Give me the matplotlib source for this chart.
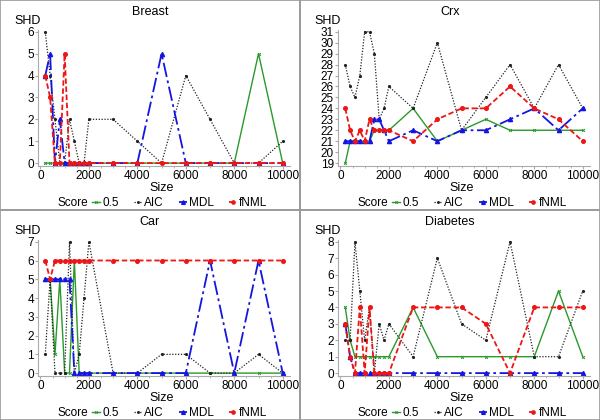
import matplotlib
matplotlib.use("Agg")
import matplotlib.pyplot as plt
from matplotlib.patches import Rectangle

sizes = [200, 400, 600, 800, 1000, 1200, 1400, 1600, 1800, 2000,
         3000, 4000, 5000, 6000, 7000, 8000, 9000, 10000]

# SHD per score, one list per data set
breast_05   = [0, 0, 0, 0, 0, 0, 0, 0, 0, 0, 0, 0, 0, 0, 0, 0, 5, 0]
breast_aic  = [6, 4, 2, 0, 0, 2, 1, 0, 0, 2, 2, 1, 0, 4, 2, 0, 0, 1]
breast_mdl  = [4, 5, 0, 2, 0, 0, 0, 0, 0, 0, 0, 0, 5, 0, 0, 0, 0, 0]
breast_fnml = [4, 3, 0, 0, 5, 0, 0, 0, 0, 0, 0, 0, 0, 0, 0, 0, 0, 0]

crx_05   = [19, 21, 21, 21, 21, 21, 22, 22, 22, 22, 24, 21, 22, 23, 22, 22, 22, 22]
crx_aic  = [28, 26, 25, 27, 31, 31, 29, 23, 24, 26, 24, 30, 22, 25, 28, 24, 28, 24]
crx_mdl  = [21, 21, 21, 21, 21, 21, 23, 23, 22, 21, 22, 21, 22, 22, 23, 24, 22, 24]
crx_fnml = [24, 22, 21, 22, 21, 23, 22, 22, 22, 22, 21, 23, 24, 24, 26, 24, 23, 21]

car_05   = [5, 5, 1, 5, 0, 0, 6, 0, 0, 0, 0, 0, 0, 0, 0, 0, 0, 0]
car_aic  = [1, 5, 0, 0, 0, 7, 0, 1, 4, 7, 0, 0, 1, 1, 0, 0, 1, 0]
car_mdl  = [5, 5, 5, 5, 5, 5, 0, 0, 0, 0, 0, 0, 0, 0, 6, 0, 6, 0]
car_fnml = [6, 5, 6, 6, 6, 6, 6, 6, 6, 6, 6, 6, 6, 6, 6, 6, 6, 6]

diab_05   = [4, 2, 1, 1, 1, 1, 1, 1, 1, 1, 4, 1, 1, 1, 1, 1, 5, 1]
diab_aic  = [2, 2, 8, 5, 2, 4, 0, 3, 2, 3, 1, 7, 3, 2, 8, 1, 1, 5]
diab_mdl  = [3, 1, 0, 0, 0, 0, 0, 0, 0, 0, 0, 0, 0, 0, 0, 0, 0, 0]
diab_fnml = [3, 1, 0, 4, 0, 4, 0, 0, 0, 0, 4, 4, 4, 3, 0, 4, 4, 4]

titles = ["Breast", "Crx", "Car", "Diabetes"]
y_ranges = [(0, 6), (19, 31), (0, 7), (0, 8)]
panel_data = [
    (breast_05, breast_aic, breast_mdl, breast_fnml),
    (crx_05, crx_aic, crx_mdl, crx_fnml),
    (car_05, car_aic, car_mdl, car_fnml),
    (diab_05, diab_aic, diab_mdl, diab_fnml),
]
score_names = ["0.5", "AIC", "MDL", "fNML"]

W, H = 600, 420
plt.rcParams['font.family'] = ['Liberation Sans', 'DejaVu Sans']
fig = plt.figure(figsize=(6, 4.2), dpi=100)

styles = [
    dict(color='#2a9a2a', ls='-', lw=1.0, marker='x', ms=2, mew=0.7),
    dict(color='#222222', ls=(0, (1, 1.3)), lw=0.9, marker='.', ms=2.5),
    dict(color='#1515e0', ls=(0, (8, 2, 1.5, 2)), lw=1.3, marker='^', ms=3),
    dict(color='#ee1515', ls=(0, (3, 1.5)), lw=1.3, marker='o', ms=2.6),
]

for i in range(4):
    col, row = i % 2, i // 2
    ox, oy = 300 * col, 210 * row

    # panel frame
    fig.add_artist(Rectangle((ox / W, 1 - (oy + 210) / H), 300 / W, 210 / H,
                             transform=fig.transFigure, fill=False,
                             edgecolor='#9a9a9a', lw=1.2))

    ax = fig.add_axes([(ox + 38) / W, 1 - (oy + 166) / H, 252 / W, 136 / H])
    for s, vals in enumerate(panel_data[i]):
        ax.plot(sizes, vals, label=score_names[s], **styles[s])

    lo, hi = y_ranges[i]
    pad = (hi - lo) * 0.022
    ax.set_ylim(lo - pad, hi + pad * 0.6)
    ax.set_yticks(range(lo, hi + 1))
    ax.set_xlim(-100, 10300)
    ax.set_xticks([0, 2000, 4000, 6000, 8000, 10000])
    ax.set_xticks(range(0, 10001, 500), minor=True)

    for side in ['top', 'right']:
        ax.spines[side].set_visible(False)
    for side in ['left', 'bottom']:
        ax.spines[side].set_color('#aaaaaa')
    ax.tick_params(labelsize=8.5, length=2, color='#aaaaaa', pad=1)
    ax.tick_params(which='minor', length=1.5, color='#aaaaaa')

    fig.text((ox + 150) / W, 1 - (oy + 12) / H, titles[i], ha='center',
             va='center', fontsize=9)
    fig.text((ox + 28) / W, 1 - (oy + 21) / H, "SHD", ha='center',
             va='center', fontsize=9)
    fig.text((ox + 162) / W, 1 - (oy + 188) / H, "Size", ha='center',
             va='center', fontsize=9)
    fig.text((ox + 58) / W, 1 - (oy + 203) / H, "Score", ha='left',
             va='center', fontsize=8.5)
    fig.legend(*ax.get_legend_handles_labels(), ncol=4, frameon=False,
               loc='center left',
               bbox_to_anchor=((ox + 92) / W, 1 - (oy + 203) / H),
               fontsize=8.5, handlelength=0.7, handletextpad=0.15,
               columnspacing=1.3, borderpad=0, borderaxespad=0,
               markerscale=0.9)

fig.savefig("out.png", dpi=100)
